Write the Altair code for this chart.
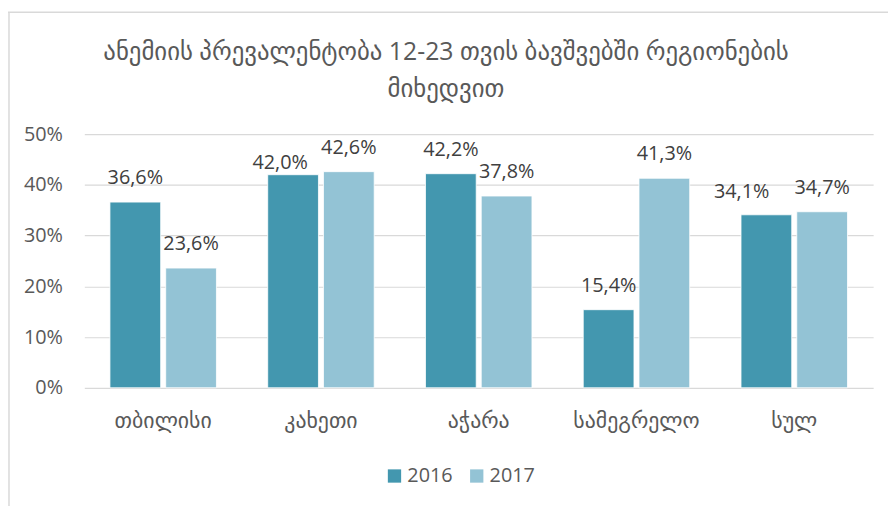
import altair as alt
import pandas as pd

regions = ["თბილისი", "კახეთი", "აჭარა", "სამეგრელო", "სულ"]
years = ["2016", "2017"]
v2016 = [36.6, 42.0, 42.2, 15.4, 34.1]
v2017 = [23.6, 42.6, 37.8, 41.3, 34.7]
colors = ["#4397AF", "#93C3D5"]
y_ticks = [0, 10, 20, 30, 40, 50]
title_lines = ["ანემიის პრევალენტობა 12-23 თვის ბავშვებში რეგიონების", "მიხედვით"]

rows = []
for i, r in enumerate(regions):
    rows.append({"region": r, "year": "2016", "value": v2016[i]})
    rows.append({"region": r, "year": "2017", "value": v2017[i]})
df = pd.DataFrame(rows)

FONT = "Open Sans, DejaVu Sans, sans-serif"
W, H = 796, 256

x = alt.X("region:N", sort=regions, title=None,
          scale=alt.Scale(paddingInner=0, paddingOuter=0),
          axis=alt.Axis(labelAngle=0, domain=False, ticks=False, labelFontSize=22,
                        labelColor="#595959", labelPadding=23, labelFont=FONT))
xo = alt.XOffset("year:N", sort=years,
                 scale=alt.Scale(paddingInner=0.09, paddingOuter=0.46))
y = alt.Y("value:Q", title=None,
          scale=alt.Scale(domain=[0, 50], nice=False),
          axis=alt.Axis(values=y_ticks, labelExpr="datum.value + '%'", domain=False,
                        ticks=False, labelFontSize=20, labelColor="#595959",
                        labelPadding=22, gridColor="#D9D9D9", gridWidth=1.2,
                        labelFont=FONT))

bars = alt.Chart(df).mark_bar(stroke="white", strokeWidth=0.8).encode(
    x=x, xOffset=xo, y=y,
    color=alt.Color("year:N", sort=years,
                    scale=alt.Scale(domain=years, range=colors),
                    legend=alt.Legend(title=None, orient="none", direction="horizontal",
                                      legendX=303, legendY=335, symbolType="square",
                                      symbolSize=180, symbolStrokeWidth=0,
                                      labelFontSize=20, labelColor="#595959",
                                      labelFont=FONT, columnPadding=14,
                                      labelOffset=3)),
)

lab_expr = "replace(format(datum.value, '.1f'), '.', ',') + '%'"
shifted = "(datum.region == 'კახეთი' || datum.region == 'სულ') && datum.year == '2016'"

labels = alt.Chart(df).transform_filter("!(" + shifted + ")").transform_calculate(
    lab=lab_expr
).mark_text(baseline="middle", dy=-24, fontSize=20, color="#404040", font=FONT).encode(
    x=x, xOffset=xo, y=y, text="lab:N"
)
lab_kakheti = alt.Chart(df).transform_filter(
    "datum.region == 'კახეთი' && datum.year == '2016'"
).transform_calculate(lab=lab_expr).mark_text(
    baseline="middle", dy=-12, dx=-13, fontSize=20, color="#404040", font=FONT
).encode(x=x, xOffset=xo, y=y, text="lab:N")
lab_total = alt.Chart(df).transform_filter(
    "datum.region == 'სულ' && datum.year == '2016'"
).transform_calculate(lab=lab_expr).mark_text(
    baseline="middle", dy=-23, dx=-25, fontSize=20, color="#404040", font=FONT
).encode(x=x, xOffset=xo, y=y, text="lab:N")

title1 = alt.Chart(alt.Data(values=[{"t": title_lines[0]}])).mark_text(
    fontSize=25, color="#595959", font=FONT, baseline="middle", align="center"
).encode(x=alt.value(365), y=alt.value(-83), text="t:N")
title2 = alt.Chart(alt.Data(values=[{"t": title_lines[1]}])).mark_text(
    fontSize=25, color="#595959", font=FONT, baseline="middle", align="center"
).encode(x=alt.value(365), y=alt.value(-45), text="t:N")

border = alt.Chart(alt.Data(values=[{}])).mark_rule(color="#D9D9D9", strokeWidth=1.5).encode(
    x=alt.value(-76), x2=alt.value(-76), y=alt.value(-123), y2=alt.value(400)
)
border_top = alt.Chart(alt.Data(values=[{}])).mark_rule(color="#D9D9D9", strokeWidth=1.5).encode(
    x=alt.value(-77), x2=alt.value(820), y=alt.value(-123), y2=alt.value(-123)
)

chart = alt.layer(bars, labels, lab_kakheti, lab_total, title1, title2, border, border_top).properties(
    width=W, height=H,
    padding={"left": 77, "top": 125, "right": 15, "bottom": 117},
    autosize=alt.AutoSizeParams(type="none"),
).configure_view(stroke=None)

chart.save("out.html", embed_options={"renderer": "svg", "actions": False})
